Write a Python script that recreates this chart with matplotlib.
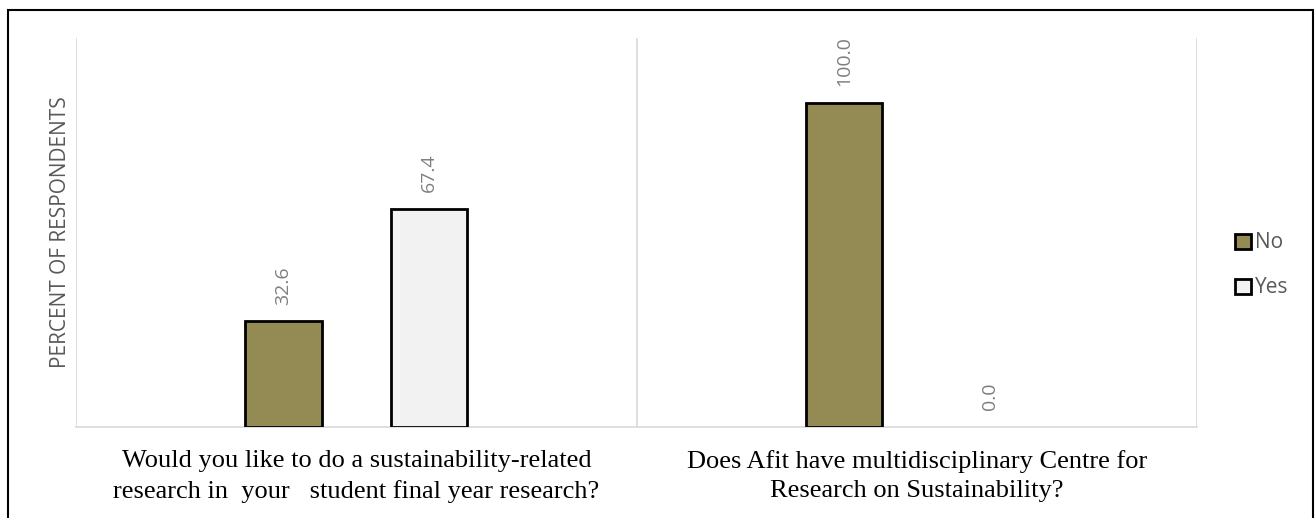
import matplotlib.pyplot as plt
import matplotlib.patches as patches
import numpy as np

# data
questions = ["Would you like to do a sustainability-related\nresearch in  your   student final year research?",
             "Does Afit have multidisciplinary Centre for\nResearch on Sustainability?"]
series = ["No", "Yes"]
no_vals = [32.6, 100.0]
yes_vals = [67.4, 0.0]
colors = ["#948a54", "#f2f2f2"]

fig = plt.figure(figsize=(13.16, 5.18), dpi=100)
ax = fig.add_axes([0.0578, 0.1757, 0.852, 0.7509])

x = np.arange(len(questions))
offsets = [-0.13, 0.13]
w = 0.136
bars = []
for vals, off, col, name in zip([no_vals, yes_vals], offsets, colors, series):
    b = ax.bar(x + off, vals, w, color=col, edgecolor="black", linewidth=2, label=name, zorder=3)
    bars.append(b)
    for rect, v in zip(b, vals):
        if v == 0:
            rect.set_linewidth(0)
    for xi, v in zip(x + off, vals):
        ax.annotate(f"{v:.1f}", (xi, v), xytext=(0, 12), textcoords="offset points",
                    rotation=90, ha="center", va="bottom", color="#7f7f7f",
                    fontsize=14, family="Open Sans")

ax.set_xlim(-0.5, 1.5)
ax.set_ylim(0, 120)
ax.set_yticks([])
ax.set_xticks([])
for s in ["top", "right", "left"]:
    ax.spines[s].set_visible(False)
ax.spines["bottom"].set_color("#d9d9d9")
ax.spines["bottom"].set_linewidth(1.2)
for gx in [-0.5, 0.5, 1.5]:
    ax.axvline(gx, color="#d9d9d9", linewidth=1.2, zorder=1)

# category labels
for xi, q in zip(x, questions):
    ax.text(xi, -0.06, q, transform=ax.get_xaxis_transform(), ha="center", va="top",
            fontsize=19, family="Liberation Serif", linespacing=1.42, color="black")

ax.set_ylabel("PERCENT OF RESPONDENTS", fontsize=15, color="#595959", family="Open Sans", labelpad=4)

leg = fig.legend(handles=bars, labels=series, loc="center left", bbox_to_anchor=(0.9245, 0.4875),
                 frameon=False, handlelength=0.75, handleheight=0.75, handletextpad=0.2,
                 labelspacing=1.15, prop={"family": "Open Sans", "size": 15})
for t in leg.get_texts():
    t.set_color("#595959")

# outer frame
fig.patches.append(patches.Rectangle((8 / 1316, -0.05), (1313 - 8) / 1316, 1.05 - 10 / 518,
                                     transform=fig.transFigure, fill=False,
                                     edgecolor="black", linewidth=1.5))

fig.savefig("out.png", dpi=100)
